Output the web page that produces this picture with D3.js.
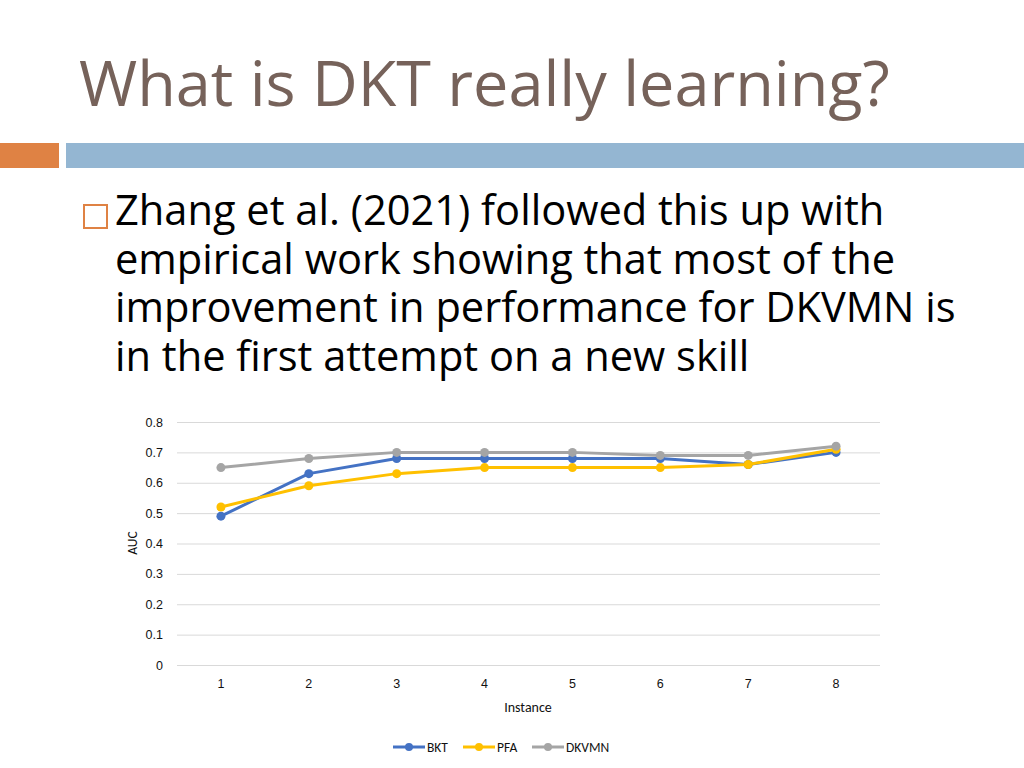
<!DOCTYPE html>
<html>
<head>
<meta charset="utf-8">
<script src="https://cdn.jsdelivr.net/npm/d3@7"></script>
<style>
  html, body { margin: 0; padding: 0; background: #fff; }
  svg { display: block; font-family: "Open Sans", sans-serif; }
</style>
</head>
<body>
<svg id="slide" width="1024" height="768"></svg>
<script>
// chart data
const instances = [1, 2, 3, 4, 5, 6, 7, 8];
const bkt   = [0.49, 0.63, 0.68, 0.68, 0.68, 0.68, 0.66, 0.70];
const pfa   = [0.52, 0.59, 0.63, 0.65, 0.65, 0.65, 0.66, 0.71];
const dkvmn = [0.65, 0.68, 0.70, 0.70, 0.70, 0.69, 0.69, 0.72];
const yTicks = [0, 0.1, 0.2, 0.3, 0.4, 0.5, 0.6, 0.7, 0.8];
const seriesNames = ['BKT', 'PFA', 'DKVMN'];
const seriesColors = ['#4472c4', '#ffc000', '#a5a5a5'];

const bulletLines = [
  'Zhang et al. (2021) followed this up with',
  'empirical work showing that most of the',
  'improvement in performance for DKVMN is',
  'in the first attempt on a new skill'
];

const svg = d3.select('#slide');

// slide header
svg.append('text').attr('x', 79).attr('y', 106)
  .attr('font-size', 63).attr('fill', '#76625a').text('What is DKT really learning?');
svg.append('rect').attr('x', 0).attr('y', 143).attr('width', 59).attr('height', 25).attr('fill', '#df8244');
svg.append('rect').attr('x', 66).attr('y', 143).attr('width', 958).attr('height', 25).attr('fill', '#94b6d2');

// bullet: one text block, one tspan per line
svg.append('rect').attr('x', 84).attr('y', 205).attr('width', 23).attr('height', 23)
  .attr('fill', 'none').attr('stroke', '#df8244').attr('stroke-width', 2);
svg.append('text').attr('font-size', 41.6).attr('fill', '#000')
  .selectAll('tspan').data(bulletLines).join('tspan')
  .attr('x', 115).attr('y', (d, i) => 225 + i * 48.7).text(d => d);

// chart
const mLeft = 177, mRight = 880, mTop = 422, mBottom = 665;
const x = d3.scaleBand().domain(instances).range([mLeft, mRight]);
const y = d3.scaleLinear().domain([0, 0.8]).range([mBottom, mTop]);
const cx = d => x(d) + x.bandwidth() / 2;

const chart = svg.append('g').attr('font-family', 'Calibri, Carlito, "Open Sans", sans-serif');

const yAxis = chart.append('g').attr('transform', `translate(${mLeft},0)`)
  .call(d3.axisLeft(y).tickValues(yTicks).tickSize(-(mRight - mLeft)).tickPadding(14)
    .tickFormat(d => d === 0 ? '0' : d3.format('.1f')(d)));
yAxis.select('.domain').remove();
yAxis.selectAll('.tick line').attr('stroke', '#d9d9d9').attr('stroke-width', 1);
yAxis.selectAll('.tick text').attr('font-size', 12.5).attr('fill', '#111');

const xAxis = chart.append('g').attr('transform', `translate(0,${mBottom})`)
  .call(d3.axisBottom(x).tickSize(0).tickPadding(14));
xAxis.select('.domain').remove();
xAxis.selectAll('.tick text').attr('font-size', 12.5).attr('fill', '#111');

chart.append('text').attr('transform', 'translate(137,543) rotate(-90)')
  .attr('text-anchor', 'middle').attr('font-size', 13.5).attr('fill', '#111').text('AUC');
chart.append('text').attr('x', 528).attr('y', 712)
  .attr('text-anchor', 'middle').attr('font-size', 14).attr('fill', '#111').text('Instance');

const allSeries = [bkt, pfa, dkvmn];
const line = d3.line().x((d, i) => cx(instances[i])).y(d => y(d));
allSeries.forEach((vals, s) => {
  const g = chart.append('g');
  g.append('path').datum(vals).attr('d', line)
    .attr('fill', 'none').attr('stroke', seriesColors[s]).attr('stroke-width', 3).attr('stroke-linejoin', 'round');
  g.selectAll('circle').data(vals).join('circle')
    .attr('cx', (d, i) => cx(instances[i])).attr('cy', d => y(d)).attr('r', 4.5)
    .attr('fill', seriesColors[s]);
});

// legend
const legendX = [393, 463, 532];
const legend = chart.append('g');
seriesNames.forEach((name, i) => {
  const lg = legend.append('g').attr('transform', `translate(${legendX[i]},747)`);
  lg.append('line').attr('x1', 0).attr('x2', 32).attr('stroke', seriesColors[i]).attr('stroke-width', 3);
  lg.append('circle').attr('cx', 16).attr('r', 4).attr('fill', seriesColors[i]);
  lg.append('text').attr('x', 34).attr('y', 5).attr('font-size', 13.5).attr('fill', '#111').text(name);
});
</script>
</body>
</html>
